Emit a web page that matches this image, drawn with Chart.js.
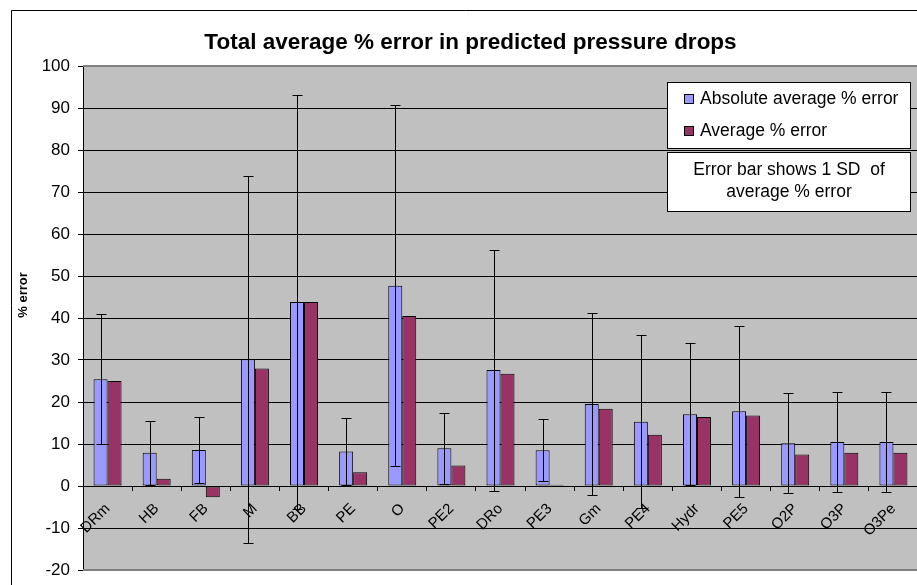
<!DOCTYPE html>
<html>
<head>
<meta charset="utf-8">
<title>Total average % error in predicted pressure drops</title>
<script src="https://cdn.jsdelivr.net/npm/chart.js@4.4.1/dist/chart.umd.min.js"></script>
<style>
  html, body { margin: 0; padding: 0; background: #fff; overflow: hidden; }
  #wrap { position: absolute; left: 0; top: 0; width: 917px; height: 585px; overflow: hidden; }
  canvas { display: block; }
</style>
</head>
<body>
<div id="wrap"><canvas id="chart" width="920" height="600"></canvas></div>
<script>
// Correlations compared
const categories = ['DRm', 'HB', 'FB', 'M', 'BB', 'PE', 'O', 'PE2', 'DRo', 'PE3', 'Gm', 'PE4', 'Hydr', 'PE5', 'O2P', 'O3P', 'O3Pe'];
// Absolute average % error per correlation
const absoluteAvgError = [25.4, 7.9, 8.6, 30.2, 43.8, 8.2, 47.7, 9.0, 27.6, 8.5, 19.5, 15.3, 17.1, 17.8, 10.2, 10.5, 10.5];
// Signed average % error per correlation
const averageError = [25.0, 1.7, -2.7, 28.0, 43.8, 3.3, 40.5, 4.9, 26.7, 0.3, 18.4, 12.2, 16.4, 16.8, 7.5, 7.9, 7.9];
// One standard deviation, shown as error bars
const errorSD = [15.5, 7.6, 7.9, 43.7, 49.3, 7.9, 43.0, 8.5, 28.7, 7.4, 21.6, 20.6, 16.9, 20.4, 11.9, 11.9, 11.9];
// Value axis range and step
const yMin = -20, yMax = 100, yStep = 10;

const seriesNames = ['Absolute average % error', 'Average % error'];
const seriesColors = ['#9999FF', '#993366'];
const noteLines = ['Error bar shows 1 SD  of', 'average % error'];
const yTitle = '% error';
const FONT = "'Liberation Sans', Arial, Helvetica, sans-serif";

// Page background, outer frame and grey plot area
const backdrop = {
  id: 'backdrop',
  beforeDraw(chart) {
    const { ctx, chartArea: a, width, height } = chart;
    ctx.save();
    ctx.fillStyle = '#fff';
    ctx.fillRect(0, 0, width, height);
    ctx.fillStyle = '#C0C0C0';
    ctx.fillRect(a.left, a.top, a.right - a.left, a.bottom - a.top);
    ctx.strokeStyle = '#000';
    ctx.lineWidth = 1;
    ctx.beginPath();
    ctx.moveTo(11.5, height);
    ctx.lineTo(11.5, 10.5);
    ctx.lineTo(width, 10.5);
    ctx.stroke();
    ctx.restore();
  },
  beforeDatasetsDraw(chart) {
    const { ctx, chartArea: a } = chart;
    ctx.save();
    ctx.strokeStyle = '#808080';
    ctx.lineWidth = 2;
    ctx.beginPath();
    ctx.moveTo(a.left, a.top);
    ctx.lineTo(a.right, a.top);
    ctx.moveTo(a.left, a.bottom);
    ctx.lineTo(a.right, a.bottom);
    ctx.stroke();
    ctx.restore();
  }
};

// Standard deviation whiskers centred on the absolute error bars
const sdBars = {
  id: 'sdBars',
  afterDatasetsDraw(chart) {
    const { ctx } = chart;
    const y = chart.scales.y;
    const meta = chart.getDatasetMeta(0);
    ctx.save();
    ctx.strokeStyle = '#000';
    ctx.lineWidth = 1;
    meta.data.forEach((bar, i) => {
      const v = absoluteAvgError[i];
      const sd = errorSD[i];
      const x = Math.round(bar.x) + 0.5;
      const top = Math.round(y.getPixelForValue(v + sd)) + 0.5;
      const bot = Math.round(y.getPixelForValue(v - sd)) + 0.5;
      ctx.beginPath();
      ctx.moveTo(x, top); ctx.lineTo(x, bot);
      ctx.moveTo(x - 5, top); ctx.lineTo(x + 5, top);
      ctx.moveTo(x - 5, bot); ctx.lineTo(x + 5, bot);
      ctx.stroke();
    });
    ctx.restore();
  }
};

// Legend box, note box and rotated value-axis title
const annotations = {
  id: 'annotations',
  afterDraw(chart) {
    const { ctx, chartArea: a } = chart;
    ctx.save();
    // legend
    const lx = 667.5, ly = 82.5, lw = 243, lh = 66;
    ctx.fillStyle = '#fff';
    ctx.fillRect(lx, ly, lw, lh);
    ctx.strokeStyle = '#000';
    ctx.lineWidth = 1;
    ctx.strokeRect(lx, ly, lw, lh);
    ctx.font = '17.5px ' + FONT;
    ctx.textBaseline = 'middle';
    ctx.textAlign = 'left';
    chart.data.datasets.forEach((ds, i) => {
      const cy = ly + 16.5 + i * 32;
      ctx.fillStyle = ds.backgroundColor;
      ctx.fillRect(684.5, cy - 4.5, 9, 9);
      ctx.strokeRect(684.5, cy - 4.5, 9, 9);
      ctx.fillStyle = '#000';
      ctx.fillText(ds.label, 700, cy);
    });
    // note
    const nx = 667.5, ny = 152.5, nw = 243, nh = 59;
    ctx.fillStyle = '#fff';
    ctx.fillRect(nx, ny, nw, nh);
    ctx.strokeRect(nx, ny, nw, nh);
    ctx.fillStyle = '#000';
    ctx.textAlign = 'center';
    noteLines.forEach((t, i) => ctx.fillText(t, nx + nw / 2, ny + 18 + i * 22));
    // value axis title
    ctx.font = 'bold 13px ' + FONT;
    ctx.translate(23, (a.top + a.bottom) / 2 - 23);
    ctx.rotate(-Math.PI / 2);
    ctx.textAlign = 'center';
    ctx.fillText(yTitle, 0, 0);
    ctx.restore();
  }
};

new Chart(document.getElementById('chart'), {
  type: 'bar',
  data: {
    labels: categories,
    datasets: [
      { label: seriesNames[0], data: absoluteAvgError, backgroundColor: seriesColors[0] },
      { label: seriesNames[1], data: averageError, backgroundColor: seriesColors[1] }
    ]
  },
  options: {
    responsive: false,
    animation: false,
    devicePixelRatio: 1,
    layout: { padding: { left: 23, right: 2, top: 10, bottom: 30 } },
    datasets: {
      bar: {
        categoryPercentage: 0.57,
        barPercentage: 1.0,
        borderColor: '#000',
        borderWidth: 1,
        borderSkipped: false
      }
    },
    plugins: {
      legend: { display: false },
      tooltip: { enabled: false },
      title: {
        display: true,
        text: 'Total average % error in predicted pressure drops',
        color: '#000',
        font: { family: FONT, size: 22.5, weight: 'bold' },
        padding: { top: 19, bottom: 10 }
      }
    },
    scales: {
      x: {
        position: { y: 0 },
        offset: true,
        grid: { display: true, offset: true, drawOnChartArea: false, drawTicks: true, tickLength: 4, color: '#000' },
        border: { display: true, color: '#000', width: 1 },
        ticks: {
          autoSkip: false,
          minRotation: 45,
          maxRotation: 45,
          padding: 10,
          color: '#000',
          font: { family: FONT, size: 15 }
        }
      },
      y: {
        min: yMin,
        max: yMax,
        grid: { color: '#000', lineWidth: 1, tickLength: 5, drawTicks: true },
        border: { display: true, color: '#000', width: 1 },
        ticks: {
          stepSize: yStep,
          padding: 8,
          color: '#000',
          font: { family: FONT, size: 17 }
        },
        afterFit(scale) { scale.width = 60; }
      }
    }
  },
  plugins: [backdrop, sdBars, annotations]
});
</script>
</body>
</html>
